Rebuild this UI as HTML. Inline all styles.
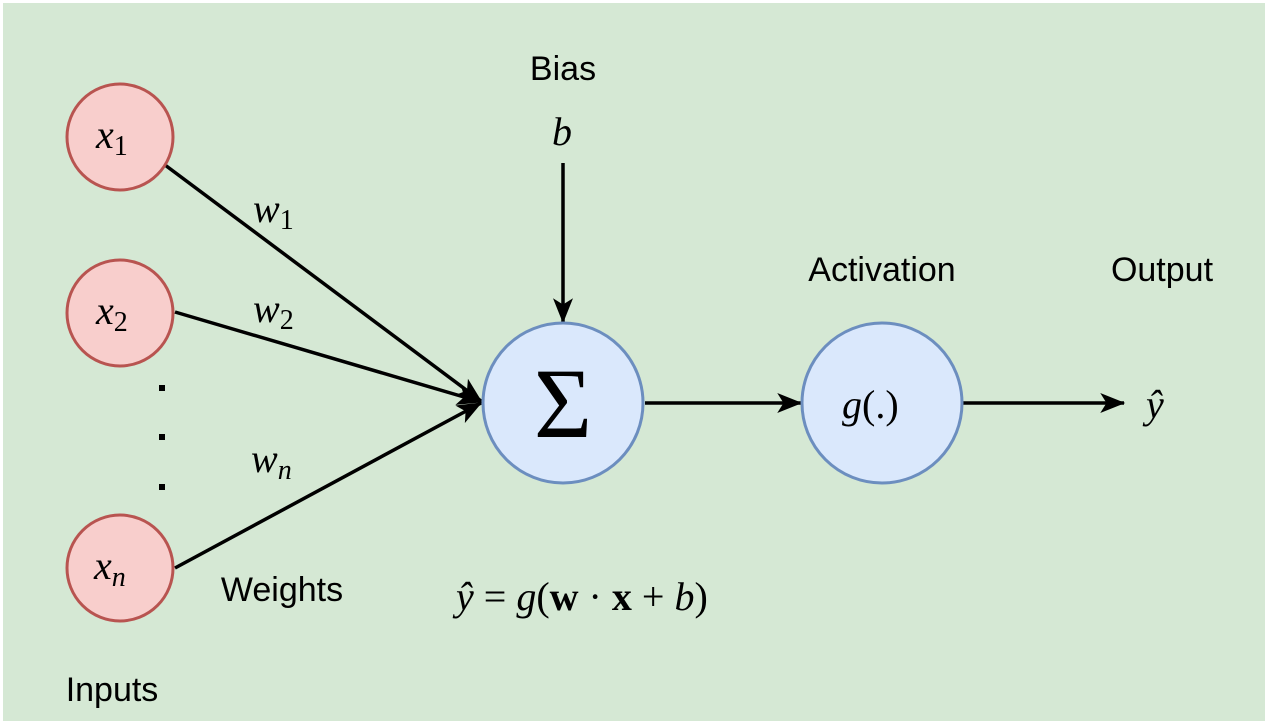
<!DOCTYPE html>
<html><head><style>
body{margin:0;background:#fff;}
svg{display:block}
text{font-family:"Liberation Sans",sans-serif;}
.m{font-family:"Liberation Serif",serif;font-style:italic;}
</style></head><body>
<svg width="1268" height="724" viewBox="0 0 1268 724">
<defs>
<marker id="b" viewBox="0 0 20 16" markerWidth="26" markerHeight="20" refX="19" refY="8" orient="auto" markerUnits="userSpaceOnUse"><path d="M0,0 L20,8 L0,16 L5,8Z"/></marker></defs>
<rect x="3" y="3" width="1262" height="718" fill="#d5e8d4"/>
<g stroke="#000" stroke-width="3.5" fill="none">
<line x1="165" y1="165" x2="481" y2="401" marker-end="url(#b)"/>
<line x1="175" y1="312" x2="481" y2="402" marker-end="url(#b)"/>
<line x1="175" y1="568" x2="481" y2="403" marker-end="url(#b)"/>
<line x1="563" y1="163" x2="563" y2="322" marker-end="url(#b)"/>
<line x1="645" y1="403" x2="801" y2="403" marker-end="url(#b)"/>
<line x1="963" y1="403" x2="1124" y2="403" marker-end="url(#b)"/>
</g>
<g fill="#f8cecc" stroke="#b85450" stroke-width="3">
<circle cx="120" cy="137" r="53"/><circle cx="120" cy="313" r="53"/><circle cx="120" cy="568" r="53"/>
</g>
<g fill="#dae8fc" stroke="#6c8ebf" stroke-width="3">
<circle cx="563" cy="403" r="80"/><circle cx="882" cy="403" r="80"/>
</g>
<g fill="#000"><rect x="159" y="385" width="6" height="6"/><rect x="159" y="434" width="6" height="6"/><rect x="159" y="484" width="6" height="6"/></g>
<g>
<text x="96" y="148" class="m" font-size="40">x<tspan font-size="28" dy="7" font-style="normal">1</tspan></text>
<text x="96" y="324" class="m" font-size="40">x<tspan font-size="28" dy="7" font-style="normal">2</tspan></text>
<text x="94" y="579" class="m" font-size="40">x<tspan font-size="28" dy="7">n</tspan></text>
<text x="253" y="222" class="m" font-size="40">w<tspan font-size="28" dy="7" font-style="normal">1</tspan></text>
<text x="253" y="322" class="m" font-size="40">w<tspan font-size="28" dy="7" font-style="normal">2</tspan></text>
<text x="251" y="472" class="m" font-size="40">w<tspan font-size="28" dy="7">n</tspan></text>
<text x="552" y="145" class="m" font-size="40">b</text>
<text x="842" y="418" class="m" font-size="40">g<tspan font-style="normal">(.)</tspan></text>
<text x="1146" y="418" class="m" font-size="40">ŷ</text>
<text x="456" y="610" class="m" font-size="40">ŷ <tspan font-style="normal">=</tspan> g<tspan font-style="normal">(</tspan><tspan font-style="normal" font-weight="bold">w</tspan><tspan font-style="normal"> · </tspan><tspan font-style="normal" font-weight="bold">x</tspan><tspan font-style="normal"> + </tspan>b<tspan font-style="normal">)</tspan></text>
</g>
<text x="563" y="437" font-size="100" text-anchor="middle" style="font-family:'Liberation Serif',serif">Σ</text>
<g font-size="34" fill="#000">
<text x="563" y="80" text-anchor="middle">Bias</text>
<text x="882" y="281" text-anchor="middle">Activation</text>
<text x="1162" y="281" text-anchor="middle">Output</text>
<text x="282" y="601" text-anchor="middle">Weights</text>
<text x="112" y="701" text-anchor="middle">Inputs</text>
</g>
</svg>
</body></html>
